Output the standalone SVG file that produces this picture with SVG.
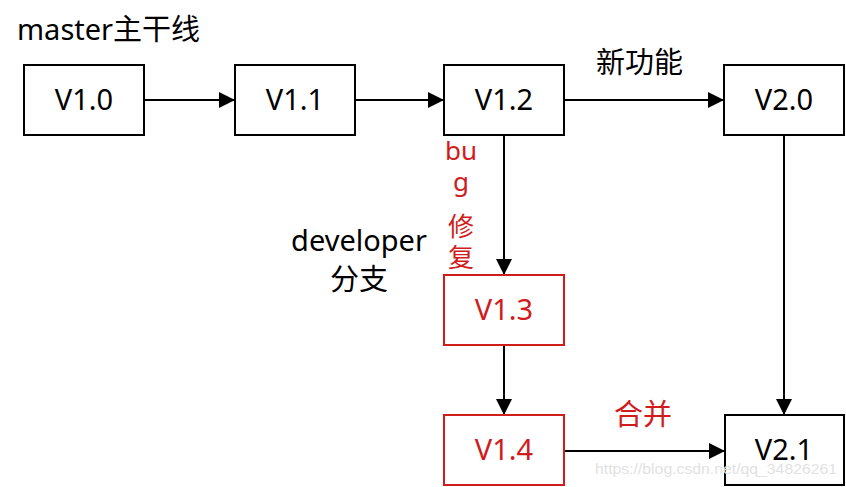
<svg xmlns="http://www.w3.org/2000/svg" width="846" height="487" viewBox="0 0 846 487">
<defs>
<marker id="arr" viewBox="0 0 10 10" refX="10" refY="5" markerWidth="16" markerHeight="16" markerUnits="userSpaceOnUse" orient="auto">
<path d="M0,0 L10,5 L0,10 z" fill="#000"/>
</marker>
<style>
text{font-family:"Noto Sans","Noto Sans CJK SC",sans-serif;font-size:29px;fill:#000}
.box{fill:#fff;stroke:#000;stroke-width:2}
.red .box{stroke:#d01c1c}
.red text,text.red{fill:#d01c1c}
.lbl{text-anchor:middle}
.vt{font-size:26px}
.edge{stroke:#000;stroke-width:2;fill:none;marker-end:url(#arr)}
.wm{font-family:"Liberation Sans",sans-serif;font-size:15px;fill:#e2e2e2}
</style>
</defs>
<rect width="846" height="487" fill="#fff"/>
<text x="17" y="40">master主干线</text>
<text x="596" y="73">新功能</text>
<text x="359" y="251" class="lbl">developer</text>
<text x="359" y="290" class="lbl">分支</text>
<g id="red-labels">
<text x="461" y="160" class="lbl red vt">bu</text>
<text x="461" y="191" class="lbl red vt">g</text>
<text x="461" y="236" class="lbl red vt">修</text>
<text x="461" y="267" class="lbl red vt">复</text>
<text x="643" y="425" class="lbl red">合并</text>
</g>
<g id="connectors">
<line class="edge" x1="144" y1="100" x2="235" y2="100"/>
<line class="edge" x1="355" y1="100" x2="444" y2="100"/>
<line class="edge" x1="564" y1="100" x2="724" y2="100"/>
<line class="edge" x1="504" y1="135" x2="504" y2="275"/>
<line class="edge" x1="504" y1="345" x2="504" y2="415"/>
<line class="edge" x1="784" y1="135" x2="784" y2="415"/>
<line class="edge" x1="564" y1="451" x2="725" y2="451"/>
</g>
<g id="v10"><rect class="box" x="24" y="65" width="120" height="70"/><text class="lbl" x="84" y="110">V1.0</text></g>
<g id="v11"><rect class="box" x="235" y="65" width="120" height="70"/><text class="lbl" x="295" y="110">V1.1</text></g>
<g id="v12"><rect class="box" x="444" y="65" width="120" height="70"/><text class="lbl" x="504" y="110">V1.2</text></g>
<g id="v20"><rect class="box" x="724" y="65" width="120" height="70"/><text class="lbl" x="784" y="110">V2.0</text></g>
<g id="v13" class="red"><rect class="box" x="444" y="275" width="120" height="70"/><text class="lbl" x="504" y="320">V1.3</text></g>
<g id="v14" class="red"><rect class="box" x="444" y="415" width="120" height="70"/><text class="lbl" x="504" y="460">V1.4</text></g>
<g id="v21"><rect class="box" x="725" y="415" width="119" height="70"/><text class="lbl" x="784" y="460">V2.1</text></g>
<text class="wm" x="595" y="474" textLength="242" lengthAdjust="spacingAndGlyphs">https://blog.csdn.net/qq_34826261</text>
</svg>
